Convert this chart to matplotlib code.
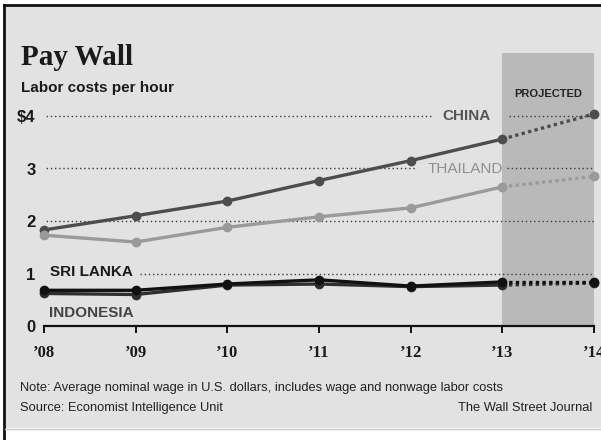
"""
Pay Wall: labor costs per hour (WSJ style recreation)
"""
import matplotlib
matplotlib.use("Agg")
import matplotlib.pyplot as plt
from matplotlib.patches import Rectangle
from matplotlib.lines import Line2D

# Data
years = [2008, 2009, 2010, 2011, 2012, 2013, 2014]
year_labels = ["\u201908", "\u201909", "\u201910", "\u201911", "\u201912", "\u201913", "\u201914"]
china = [1.83, 2.10, 2.38, 2.77, 3.15, 3.56, 4.04]
thailand = [1.73, 1.60, 1.88, 2.08, 2.25, 2.65, 2.85]
sri_lanka = [0.68, 0.68, 0.80, 0.88, 0.76, 0.84, 0.84]
indonesia = [0.62, 0.60, 0.78, 0.80, 0.75, 0.78, 0.82]
y_ticks = [0, 1, 2, 3, 4]
y_tick_labels = ["0", "1", "2", "3", "$4"]
projected_from = 2013

W, H = 601, 440
bg = "#e2e2e2"
narrow = ["Liberation Sans Narrow", "Liberation Sans", "DejaVu Sans"]
sans = ["Liberation Sans", "DejaVu Sans"]
serif = ["Liberation Serif", "DejaVu Serif"]

fig = plt.figure(figsize=(W / 100, H / 100), dpi=100, facecolor="white")


def fx(px):
    return px / W


def fy(py):
    return 1 - py / H


# panel background and frame
fig.patches.append(Rectangle((fx(5), fy(428)), fx(601) - fx(5), fy(6) - fy(428),
                             transform=fig.transFigure, facecolor=bg, edgecolor="none", zorder=-5))
fig.lines.append(Line2D([fx(4), 1], [fy(5), fy(5)], transform=fig.transFigure, color="#111", lw=2, zorder=-4))
fig.lines.append(Line2D([fx(4), fx(4)], [fy(5), 0], transform=fig.transFigure, color="#111", lw=2, zorder=-4))
fig.lines.append(Line2D([fx(5), 1], [fy(429), fy(429)], transform=fig.transFigure, color="#c8c8c8", lw=1, zorder=-4))

# axes: '08 at x=44px, '14 at x=594px, 0 at y=326px, 52.5 px per dollar
ymax = 5.2
ax = fig.add_axes([fx(44), fy(326), (594 - 44) / W, ymax * 52.5 / H])
ax.set_facecolor("none")
ax.set_xlim(2008, 2014)
ax.set_ylim(0, ymax)

ax.axvspan(projected_from, 2014, color="#b9b9b9", zorder=0, lw=0)
ax.text(2013.5, 4.42, "PROJECTED", ha="center", va="center", fontsize=8,
        fontweight="bold", family=narrow, color="#222")

# dotted gridlines, broken where the labels sit
grid_kw = dict(color="#3a3a3a", linestyle=(0, (1, 2)), lw=1, zorder=1)
ax.hlines(4, 2007.98, 2012.24, **grid_kw)
ax.hlines(4, 2013.07, 2014, **grid_kw)
ax.hlines(3, 2007.98, 2012.07, **grid_kw)
ax.hlines(3, 2013.05, 2014, **grid_kw)
ax.hlines(2, 2007.98, 2014, **grid_kw)
ax.hlines(1, 2009.05, 2014, **grid_kw)

series = [
    (china, "#4d4d4d"),
    (thailand, "#9a9a9a"),
    (indonesia, "#2e2e2e"),
    (sri_lanka, "#111111"),
]
cut = years.index(projected_from)
for vals, col in series:
    ax.plot(years[:cut + 1], vals[:cut + 1], color=col, lw=2.4, zorder=3,
            solid_capstyle="round")
    ax.plot(years[cut:], vals[cut:], color=col, lw=2.4, linestyle=(0, (1, 1)), zorder=3)
    ax.plot(years, vals, linestyle="none", marker="o", ms=6, color=col, zorder=4,
            clip_on=False)

# series labels
ax.text(2012.35, 4.0, "CHINA", ha="left", va="center", fontsize=11, fontweight="bold",
        family=sans, color="#555555")
ax.text(2012.19, 3.0, "THAILAND", ha="left", va="center", fontsize=11,
        family=sans, color="#8f8f8f")
ax.text(2008.06, 1.02, "SRI LANKA", ha="left", va="center", fontsize=11, fontweight="bold",
        family=narrow, color="#1a1a1a")
ax.text(2008.06, 0.25, "INDONESIA", ha="left", va="center", fontsize=11, fontweight="bold",
        family=narrow, color="#444444")

# axes styling
for s in ["top", "right", "left"]:
    ax.spines[s].set_visible(False)
ax.spines["bottom"].set_color("#111")
ax.spines["bottom"].set_linewidth(1.6)
ax.set_xticks(years)
ax.set_xticklabels(year_labels, family=serif, fontsize=12, fontweight="bold", color="#1a1a1a")
ax.tick_params(axis="x", direction="out", length=5, width=1.4, color="#111", pad=9)
ax.set_yticks(y_ticks)
ax.set_yticklabels(y_tick_labels, family=narrow, fontsize=12, fontweight="bold", color="#1a1a1a")
ax.tick_params(axis="y", length=0, pad=6)

# titles and notes
fig.text(fx(21), fy(65), "Pay Wall", family=serif, fontsize=21, fontweight="bold",
         color="#1a1a1a", va="baseline", ha="left")
fig.text(fx(21), fy(92), "Labor costs per hour", family=sans, fontsize=11, fontweight="bold",
         color="#1a1a1a", va="baseline", ha="left")
fig.text(fx(20), fy(388), "Note: Average nominal wage in U.S. dollars, includes wage and nonwage labor costs",
         family=narrow, fontsize=9.3, color="#222", va="center", ha="left")
fig.text(fx(20), fy(408), "Source: Economist Intelligence Unit",
         family=narrow, fontsize=9.3, color="#222", va="center", ha="left")
fig.text(fx(592), fy(408), "The Wall Street Journal",
         family=narrow, fontsize=9.3, color="#222", va="center", ha="right")

fig.savefig("out.png", dpi=100, facecolor=fig.get_facecolor())
